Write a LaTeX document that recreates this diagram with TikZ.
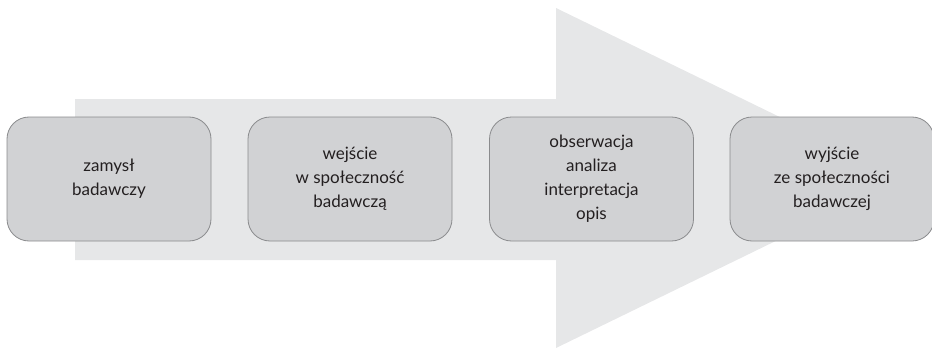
\documentclass[tikz,border=0pt]{standalone}
\usepackage{fontspec}
\setmainfont{Lato}
\begin{document}
\begin{tikzpicture}[x=1pt,y=1pt,
  stage/.style={draw=boxline, line width=0.8pt, fill=boxfill, rounded corners=22pt,
    minimum width=204pt, minimum height=124pt, align=center, text=txt,
    font=\fontsize{17}{24}\selectfont, inner sep=0pt}]
\definecolor{arrowfill}{HTML}{E6E7E8}
\definecolor{boxfill}{HTML}{D1D2D4}
\definecolor{boxline}{HTML}{8A8B8D}
\definecolor{txt}{HTML}{231F20}
\useasboundingbox (0,0) rectangle (932,349);
\fill[arrowfill] (75,250) -- (556,250) -- (556,341) -- (905,171) -- (556,1) -- (556,89) -- (75,89) -- cycle;
\node[stage] (s1) at (109,170) {zamysł\\badawczy};
\node[stage] (s2) at (350,170) {wejście\\w społeczność\\badawczą};
\node[stage] (s3) at (591.5,170) {obserwacja\\analiza\\interpretacja\\opis};
\node[stage] (s4) at (832,170) {wyjście\\ze społeczności\\badawczej};
\end{tikzpicture}
\end{document}
